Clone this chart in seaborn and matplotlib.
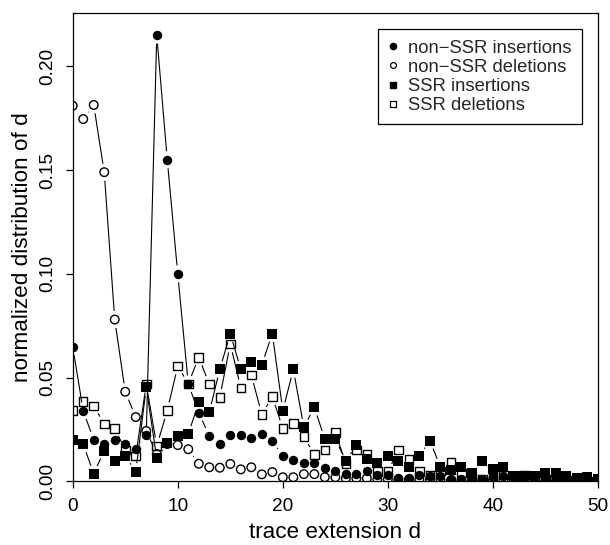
import numpy as np
import pandas as pd
import matplotlib
matplotlib.use("Agg")
import matplotlib.pyplot as plt
from matplotlib.collections import LineCollection
from matplotlib.lines import Line2D
import seaborn as sns

d = list(range(0, 51))

non_ssr_ins = [0.065, 0.034, 0.020, 0.018, 0.020, 0.018, 0.0156, 0.0224, 0.215, 0.155,
               0.100, 0.047, 0.033, 0.022, 0.018, 0.0224, 0.0224, 0.021, 0.0228, 0.0195,
               0.0124, 0.0102, 0.0087, 0.0087, 0.0066, 0.0052, 0.0036, 0.0036, 0.005, 0.003,
               0.003, 0.0015, 0.0015, 0.003, 0.0025, 0.0026, 0.001, 0.001, 0.0015, 0.001,
               0.002, 0.0025, 0.001, 0.001, 0.001, 0.001, 0.001, 0.001, 0.0005, 0.0005, 0.0]

non_ssr_del = [0.181, 0.1746, 0.1814, 0.149, 0.078, 0.0432, 0.031, 0.0243, 0.0132, 0.018,
               0.0175, 0.0155, 0.0085, 0.0068, 0.0066, 0.0084, 0.0058, 0.0068, 0.0034, 0.0045,
               0.002, 0.002, 0.0035, 0.0035, 0.002, 0.002, 0.0015, 0.0015, 0.0015, 0.001,
               0.001, 0.001, 0.001, 0.001, 0.001, 0.001, 0.0005, 0.0005, 0.0005, 0.0005,
               0.0005, 0.0005, 0.0, 0.0, 0.0, 0.0, 0.0, 0.0, 0.0, 0.0, 0.0]

ssr_ins = [0.0198, 0.0179, 0.0037, 0.0148, 0.010, 0.0122, 0.0047, 0.0453, 0.0111, 0.0184,
           0.0219, 0.0228, 0.0381, 0.0333, 0.054, 0.0712, 0.054, 0.0577, 0.0562, 0.0712,
           0.0341, 0.054, 0.0261, 0.0357, 0.0204, 0.0204, 0.0098, 0.0175, 0.0108, 0.0087,
           0.0124, 0.010, 0.0071, 0.0124, 0.0196, 0.0071, 0.0055, 0.0071, 0.0039, 0.010,
           0.006, 0.0071, 0.0024, 0.0024, 0.0024, 0.0039, 0.0039, 0.0024, 0.0014, 0.002, 0.001]

ssr_del = [0.0341, 0.0384, 0.0363, 0.0277, 0.0256, 0.0151, 0.0122, 0.0469, 0.0171, 0.0341,
           0.0556, 0.047, 0.0598, 0.0469, 0.0405, 0.0662, 0.0451, 0.0513, 0.0323, 0.0408,
           0.0256, 0.028, 0.0216, 0.013, 0.0151, 0.0236, 0.0087, 0.0151, 0.013, 0.0047,
           0.0047, 0.0151, 0.0106, 0.0047, 0.003, 0.005, 0.009, 0.004, 0.002, 0.001,
           0.003, 0.003, 0.001, 0.003, 0.001, 0.001, 0.001, 0.0005, 0.0, 0.0, 0.0]

labels = ["non\u2212SSR insertions", "non\u2212SSR deletions", "SSR insertions", "SSR deletions"]
x_ticks = [0, 10, 20, 30, 40, 50]
y_ticks = [0.00, 0.05, 0.10, 0.15, 0.20]
y_tick_labels = ["0.00", "0.05", "0.10", "0.15", "0.20"]

sns.set_style("ticks")
plt.rcParams['font.family'] = ['Liberation Sans', 'DejaVu Sans']

fig = plt.figure(figsize=(6.1, 5.45), dpi=100)
ax = fig.add_axes([0.1192, 0.1167, 0.8611, 0.8594])
ax.set_xlim(0, 50)
ax.set_ylim(0, 0.2257)

series = [
    (non_ssr_ins, "o", True),
    (non_ssr_del, "o", False),
    (ssr_ins, "s", True),
    (ssr_del, "s", False),
]

gap = 8.5  # pixels from point centre where the line stops (R type="b")
fig.canvas.draw()
trans = ax.transData
inv = trans.inverted()

for vals, mk, filled in series:
    pts = trans.transform(np.column_stack([d, vals]))
    segs = []
    for i in range(len(pts) - 1):
        p0, p1 = pts[i], pts[i + 1]
        v = p1 - p0
        L = np.hypot(*v)
        if L <= 2 * gap:
            continue
        u = v / L
        a = inv.transform(p0 + u * gap)
        b = inv.transform(p1 - u * gap)
        segs.append([a, b])
    lc = LineCollection(segs, colors="black", linewidths=0.8)
    ax.add_collection(lc)
    df = pd.DataFrame({"d": d, "v": vals})
    sns.scatterplot(data=df, x="d", y="v", ax=ax, marker=mk, s=46 if filled else 38,
                    color="black", edgecolor="black", linewidth=0 if filled else 1.0,
                    legend=False, zorder=3)
    if not filled:
        ax.collections[-1].set_facecolor("none")
        ax.collections[-1].set_edgecolor("black")
        ax.collections[-1].set_linewidth(1.0)

ax.set_xticks(x_ticks)
ax.set_xticklabels([str(t) for t in x_ticks])
ax.set_yticks(y_ticks)
ax.set_yticklabels(y_tick_labels, rotation=90, va="center")
ax.tick_params(axis="both", direction="out", length=5, width=0.9, labelsize=13.7,
               color="black", labelcolor="black", pad=7)
for sp in ax.spines.values():
    sp.set_visible(True)
    sp.set_color("black")
    sp.set_linewidth(0.9)

ax.set_xlabel("trace extension d", fontsize=16.2, color="black", labelpad=5)
ax.set_ylabel("normalized distribution of d", fontsize=16.2, color="black", labelpad=4)

handles = [
    Line2D([], [], linestyle="none", marker="o", markersize=4.5, markerfacecolor="black", markeredgecolor="black"),
    Line2D([], [], linestyle="none", marker="o", markersize=4.2, markerfacecolor="none", markeredgecolor="black", markeredgewidth=0.9),
    Line2D([], [], linestyle="none", marker="s", markersize=4.5, markerfacecolor="black", markeredgecolor="black"),
    Line2D([], [], linestyle="none", marker="s", markersize=4.2, markerfacecolor="none", markeredgecolor="black", markeredgewidth=0.9),
]
leg = ax.legend(handles, labels, loc="upper right", bbox_to_anchor=(0.969, 0.965),
                fontsize=13.3, frameon=True, fancybox=False, framealpha=1,
                edgecolor="black", borderpad=0.55, labelspacing=0.12,
                handlelength=0.6, handletextpad=0.5, borderaxespad=0)
leg.get_frame().set_linewidth(0.9)

fig.savefig("out.png", dpi=100)
